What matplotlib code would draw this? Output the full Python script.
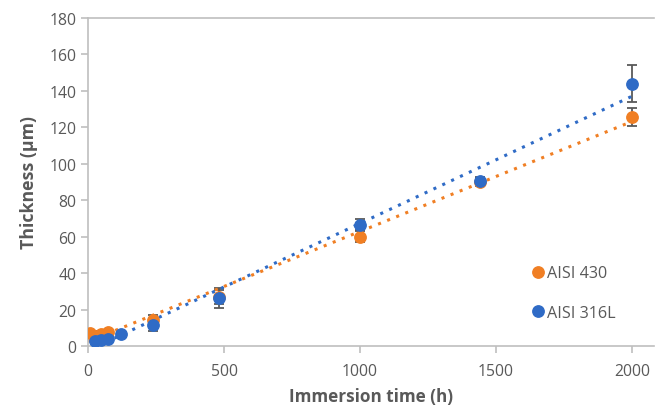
import numpy as np
import matplotlib
matplotlib.use("Agg")
import matplotlib.pyplot as plt

plt.rcParams['font.family'] = ['Open Sans', 'DejaVu Sans']

# immersion times (h) and measured layer thickness (um)
t_430 = [8, 24, 48, 72, 240, 480, 1000, 1440, 2000]
thk_430 = [7.0, 5.5, 6.5, 7.5, 14.0, 27.0, 60.0, 90.0, 125.5]
err_430 = [1.5, 1.0, 1.5, 1.5, 3.0, 4.0, 3.0, 2.0, 5.0]

t_316 = [24, 48, 72, 120, 240, 480, 1000, 1440, 2000]
thk_316 = [3.0, 3.5, 4.0, 6.5, 11.5, 26.5, 66.5, 90.5, 144.0]
err_316 = [1.0, 1.0, 1.0, 1.0, 3.0, 5.5, 3.0, 2.0, 10.0]

c_430 = '#F07F24'
c_316 = '#2F6BC6'
grey = '#595959'

fig = plt.figure(figsize=(6.55, 4.14), dpi=100)
ax = fig.add_axes([0.1344, 0.1618, 0.864, 0.7924])

for t, y, e, c, lab in [(t_430, thk_430, err_430, c_430, 'AISI 430'),
                        (t_316, thk_316, err_316, c_316, 'AISI 316L')]:
    ax.errorbar(t, y, yerr=e, fmt='none', ecolor=grey, elinewidth=1.3,
                capsize=3.8, capthick=1.3, zorder=2)
    ax.plot(t, y, 'o', color=c, markersize=8.2, label=lab, zorder=3)
    # linear trend line
    k, b = np.polyfit(t, y, 1)
    xs = np.array([0, 2000])
    ax.plot(xs, k * xs + b, linestyle=(0, (1, 2.2)), color=c, linewidth=2.2,
            zorder=2.5)

ax.set_xlim(0, 2081)
ax.set_ylim(0, 180)
ax.set_xticks([0, 500, 1000, 1500, 2000])
ax.set_yticks(range(0, 181, 20))

for s in ['left', 'bottom', 'top']:
    ax.spines[s].set_color('#BFBFBF')
    ax.spines[s].set_linewidth(1.2)
ax.spines['right'].set_visible(False)
ax.tick_params(colors='#BFBFBF', labelcolor=grey, labelsize=11.3, length=5,
               width=1.2)
ax.tick_params(axis='x', pad=7)

ax.set_xlabel('Immersion time (h)', fontsize=12.3, fontweight='bold',
              color=grey, labelpad=6)
ax.set_ylabel('Thickness (\u03bcm)', fontsize=12.8, fontweight='bold',
              color=grey, labelpad=8)

leg = ax.legend(loc='upper left', bbox_to_anchor=(0.755, 0.29), frameon=False,
                fontsize=11.6, labelspacing=1.45, handletextpad=0.05,
                handlelength=1.0, labelcolor=grey)

fig.savefig('out.png', dpi=100)
